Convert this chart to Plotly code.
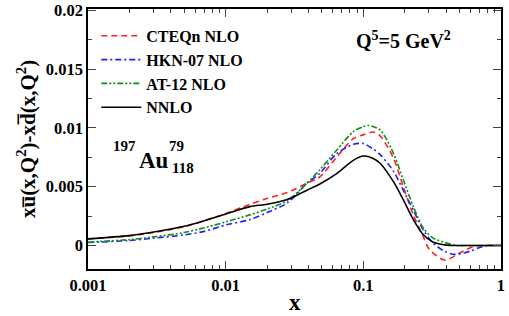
import plotly.graph_objects as go

x_nnlo = [0.001, 0.002, 0.003, 0.005, 0.007, 0.01, 0.015, 0.02, 0.028, 0.039, 0.048, 0.064, 0.085, 0.1, 0.118, 0.133, 0.166, 0.195, 0.231, 0.272, 0.32, 0.39, 0.46, 0.6, 0.75, 1.0]
y_nnlo = [0.00056, 0.00084, 0.00115, 0.00163, 0.0021, 0.00267, 0.0033, 0.0035, 0.0039, 0.0047, 0.0052, 0.0061, 0.00725, 0.0076, 0.0074, 0.00697, 0.0054, 0.0039, 0.0022, 0.00093, 0.0003, 0.00005, 0.0, 0.0, 0.0, 0.0]

x_cteq = [0.001, 0.002, 0.003, 0.005, 0.007, 0.01, 0.015, 0.02, 0.028, 0.039, 0.048, 0.064, 0.085, 0.1, 0.118, 0.133, 0.166, 0.195, 0.231, 0.272, 0.302, 0.39, 0.46, 0.51, 0.63, 0.75, 1.0]
y_cteq = [0.00055, 0.00082, 0.0011, 0.0016, 0.0021, 0.0027, 0.0035, 0.0040, 0.0045, 0.0053, 0.0058, 0.0075, 0.0091, 0.0094, 0.00964, 0.0093, 0.0074, 0.0050, 0.0026, 0.00078, -0.00034, -0.00124, -0.0009, -0.0006, -0.0001, 0.0, 0.0]

x_hkn = [0.001, 0.002, 0.003, 0.005, 0.007, 0.01, 0.015, 0.02, 0.028, 0.039, 0.048, 0.064, 0.085, 0.1, 0.118, 0.133, 0.166, 0.195, 0.231, 0.272, 0.32, 0.39, 0.46, 0.6, 0.75, 1.0]
y_hkn = [0.00025, 0.00042, 0.00062, 0.0009, 0.0012, 0.00174, 0.0022, 0.0028, 0.0036, 0.0053, 0.0061, 0.0078, 0.0086, 0.00866, 0.0082, 0.0077, 0.0063, 0.0047, 0.0030, 0.00135, 0.00023, -0.0005, -0.00076, -0.00048, -0.00006, 0.0]

x_at = [0.001, 0.002, 0.003, 0.005, 0.007, 0.01, 0.015, 0.02, 0.028, 0.039, 0.048, 0.064, 0.085, 0.1, 0.11, 0.133, 0.166, 0.195, 0.231, 0.272, 0.32, 0.40, 0.48, 0.6, 1.0]
y_at = [0.00028, 0.0005, 0.00073, 0.0011, 0.0015, 0.0020, 0.0026, 0.0031, 0.0038, 0.0053, 0.0064, 0.0081, 0.0097, 0.0101, 0.0102, 0.0098, 0.0078, 0.0056, 0.0033, 0.0015, 0.00065, 0.00022, 0.0, 0.0, 0.0]

names = ["CTEQn NLO", "HKN-07 NLO", "AT-12 NLO", "NNLO"]

xticks = [0.001, 0.01, 0.1, 1]
xticktext = ["0.001", "0.01", "0.1", "1"]
yticks = [0, 0.005, 0.01, 0.015, 0.02]
yticktext = ["0", "0.005", "0.01", "0.015", "0.02"]

FONT = "Liberation Serif, Times New Roman, serif"

fig = go.Figure()
fig.add_trace(go.Scatter(x=x_cteq, y=y_cteq, mode="lines", name=names[0],
                         line=dict(color="#ff2020", width=1.6, dash="6px,4px", shape="spline", smoothing=0.8)))
fig.add_trace(go.Scatter(x=x_hkn, y=y_hkn, mode="lines", name=names[1],
                         line=dict(color="#2020ff", width=1.6, dash="6px,3px,2px,3px", shape="spline", smoothing=0.8)))
fig.add_trace(go.Scatter(x=x_at, y=y_at, mode="lines", name=names[2],
                         line=dict(color="#109010", width=1.6, dash="6px,2px,2px,2px,2px,2px", shape="spline", smoothing=0.8)))
fig.add_trace(go.Scatter(x=x_nnlo, y=y_nnlo, mode="lines", name=names[3],
                         line=dict(color="black", width=1.6, shape="spline", smoothing=0.8)))

minor_x = [m * 10.0 ** e for e in (-3, -2, -1) for m in range(2, 10)]
minor_y = [0.0025, 0.0075, 0.0125, 0.0175]

def bold(size):
    return dict(size=size, family=FONT, weight="bold", color="black")

fig.update_layout(
    width=509, height=316,
    margin=dict(l=88, r=8, t=9, b=47),
    paper_bgcolor="white", plot_bgcolor="white",
    font=bold(16),
    showlegend=True,
    legend=dict(x=0.02, y=0.962, xanchor="left", yanchor="top",
                bgcolor="rgba(0,0,0,0)", font=bold(16),
                tracegroupgap=0, itemwidth=40),
    xaxis=dict(type="log", range=[-3, 0.0004], tickmode="array", tickvals=xticks, ticktext=xticktext,
               ticks="inside", ticklen=8, tickwidth=1.2, showline=True, linewidth=1.5, linecolor="black",
               mirror="ticks", showgrid=False, zeroline=False, automargin=False, ticklabeloverflow="allow",
               minor=dict(tickmode="array", tickvals=minor_x, ticks="inside", ticklen=4, tickwidth=1, showgrid=False),
               tickfont=bold(16.5)),
    yaxis=dict(range=[-0.002, 0.0201], tickmode="array", tickvals=yticks, ticktext=yticktext,
               ticks="inside", ticklen=8, tickwidth=1.2, showline=True, linewidth=1.5, linecolor="black",
               mirror="ticks", showgrid=False, zeroline=False, automargin=False, ticklabeloverflow="allow",
               minor=dict(tickmode="array", tickvals=minor_y, ticks="inside", ticklen=4, tickwidth=1, showgrid=False),
               tickfont=bold(16.5)),
    annotations=[
        dict(x=-0.15, y=0.5, xref="paper", yref="paper", showarrow=False, xanchor="center", yanchor="middle",
             textangle=-90, text="xu\u0305(x,Q<sup>2</sup>)-xd\u0305(x,Q<sup>2</sup>)", font=bold(21)),
        dict(x=0.501, y=-0.13, xref="paper", yref="paper", showarrow=False, xanchor="center", yanchor="middle",
             text="x", font=bold(23)),
        dict(x=0.765, y=0.881, xref="paper", yref="paper", showarrow=False, xanchor="center", yanchor="middle",
             text="Q<sup>5</sup>=5 GeV<sup>2</sup>", font=bold(20)),
        dict(x=0.121, y=0.473, xref="paper", yref="paper", showarrow=False, xanchor="right", yanchor="middle",
             text="197", font=bold(15)),
        dict(x=0.119, y=0.419, xref="paper", yref="paper", showarrow=False, xanchor="left", yanchor="middle",
             text="Au", font=bold(23)),
        dict(x=0.192, y=0.473, xref="paper", yref="paper", showarrow=False, xanchor="left", yanchor="middle",
             text="79", font=bold(15)),
        dict(x=0.199, y=0.388, xref="paper", yref="paper", showarrow=False, xanchor="left", yanchor="middle",
             text="118", font=bold(15)),
    ],
)

fig.write_html("out.html", config={"displayModeBar": False},
               post_script="document.body.style.margin='0';document.body.style.padding='0';")
